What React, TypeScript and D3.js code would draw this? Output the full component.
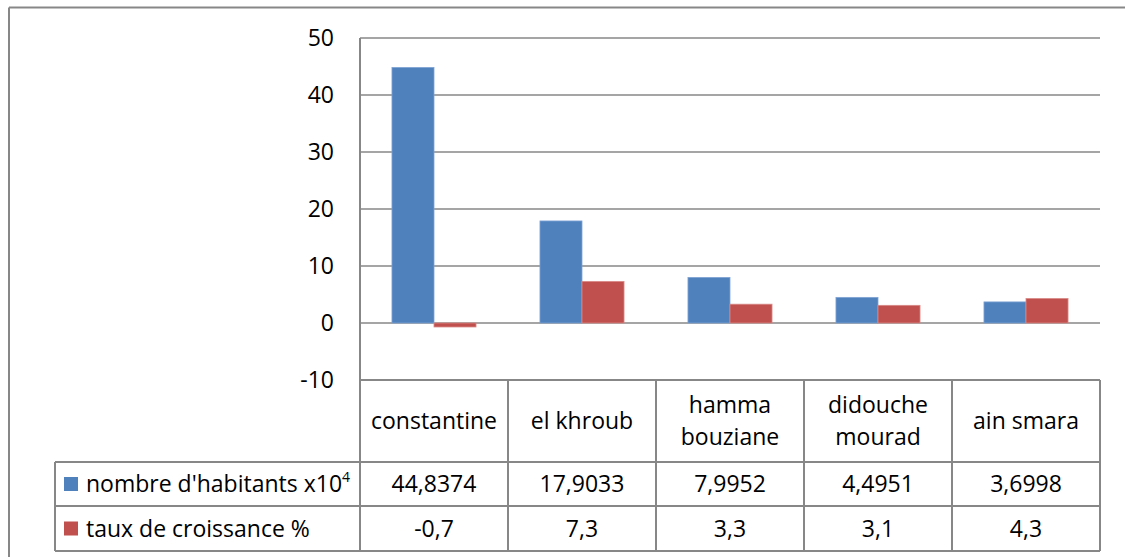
import React from "react";
import * as d3 from "d3";

const categories = ["constantine", "el khroub", "hamma bouziane", "didouche mourad", "ain smara"];
const categoryLines = [["constantine"], ["el khroub"], ["hamma", "bouziane"], ["didouche", "mourad"], ["ain smara"]];
const population = [44.8374, 17.9033, 7.9952, 4.4951, 3.6998];
const growth = [-0.7, 7.3, 3.3, 3.1, 4.3];
const seriesNames = ["nombre d'habitants x10", "taux de croissance %"];
const yTicks = [-10, 0, 10, 20, 30, 40, 50];

const W = 1125;
const H = 557;
const FONT = "'Open Sans', sans-serif";
const FS = 23;
const BLUE = "#4F81BD";
const RED = "#C0504D";
const GRID = "#878787";

const fmt = (v: number) => String(v).replace(".", ",");

export default function App() {
  const left = 360, right = 1100, top = 38, bottom = 380;
  const y = d3.scaleLinear().domain([-10, 50]).range([bottom, top]);
  const x = d3.scaleBand<string>().domain(categories).range([left, right]).paddingInner(0.432).paddingOuter(0.216);
  const step = (right - left) / categories.length;
  const xs = d3.scaleBand<string>().domain(["pop", "growth"]).range([0, x.bandwidth()]);
  const series = [
    { key: "pop", values: population, color: BLUE, edge: "#7FA3D4" },
    { key: "growth", values: growth, color: RED, edge: "#D98A88" },
  ];
  const rowCatBottom = 462, row1Bottom = 506, row2Bottom = 551, legendLeft = 55;

  return (
    <svg width={W} height={H} style={{ position: "absolute", left: 0, top: 0, display: "block" }} fontFamily={FONT}>
      <rect x={0} y={0} width={W} height={H} fill="#fff" />
      {/* outer frame */}
      <line x1={9} x2={W + 5} y1={7.5} y2={7.5} stroke={GRID} strokeWidth={2} />
      <line x1={9} x2={9} y1={7.5} y2={H + 5} stroke={GRID} strokeWidth={2} />

      {/* gridlines */}
      {yTicks.map((t) => (
        <line key={t} x1={left} x2={right} y1={y(t)} y2={y(t)} stroke={GRID} strokeWidth={1.7} />
      ))}
      {yTicks.map((t) => (
        <text key={"l" + t} x={334} y={y(t)} dy="0.36em" textAnchor="end" fontSize={FS} fill="#000">
          {t}
        </text>
      ))}

      {/* bars */}
      {series.map((s) =>
        categories.map((c, i) => {
          const v = s.values[i];
          const x0 = (x(c) as number) + (xs(s.key) as number);
          const y0 = Math.min(y(v), y(0));
          const h = Math.abs(y(v) - y(0));
          return (
            <rect key={s.key + c} x={x0} y={y0} width={xs.bandwidth()} height={h} fill={s.color} stroke={s.edge} strokeWidth={0.8} />
          );
        })
      )}

      {/* table */}
      <line x1={left} x2={left} y1={top} y2={row2Bottom} stroke={GRID} strokeWidth={2} />
      {categories.map((c, i) => (
        <line key={"v" + c} x1={left + step * (i + 1)} x2={left + step * (i + 1)} y1={bottom} y2={row2Bottom} stroke={GRID} strokeWidth={2} />
      ))}
      <line x1={legendLeft} x2={legendLeft} y1={rowCatBottom} y2={row2Bottom} stroke={GRID} strokeWidth={2} />
      <line x1={left} x2={right} y1={bottom} y2={bottom} stroke={GRID} strokeWidth={2} />
      {[rowCatBottom, row1Bottom, row2Bottom].map((yy) => (
        <line key={"h" + yy} x1={legendLeft} x2={right} y1={yy} y2={yy} stroke={GRID} strokeWidth={2} />
      ))}

      {categoryLines.map((lines, i) => {
        const cx = left + step * (i + 0.5);
        const cy = (bottom + rowCatBottom) / 2;
        const lh = 32;
        return (
          <text key={"c" + i} x={cx} textAnchor="middle" fontSize={FS} fill="#000">
            {lines.map((ln, j) => (
              <tspan key={j} x={cx} y={cy + (j - (lines.length - 1) / 2) * lh} dy="0.36em">
                {ln}
              </tspan>
            ))}
          </text>
        );
      })}

      {series.map((s, r) => {
        const y0 = r === 0 ? rowCatBottom : row1Bottom;
        const y1 = r === 0 ? row1Bottom : row2Bottom;
        const cy = (y0 + y1) / 2;
        return (
          <g key={"row" + s.key}>
            <rect x={64} y={cy - 7} width={14} height={14} fill={s.color} />
            <text x={86} y={cy} dy="0.36em" fontSize={FS} fill="#000">
              {seriesNames[r]}
              {r === 0 && (
                <tspan fontSize={14} dy="-0.75em">4</tspan>
              )}
            </text>
            {s.values.map((v, i) => (
              <text key={i} x={left + step * (i + 0.5)} y={cy} dy="0.36em" textAnchor="middle" fontSize={FS} fill="#000">
                {fmt(v)}
              </text>
            ))}
          </g>
        );
      })}
    </svg>
  );
}
